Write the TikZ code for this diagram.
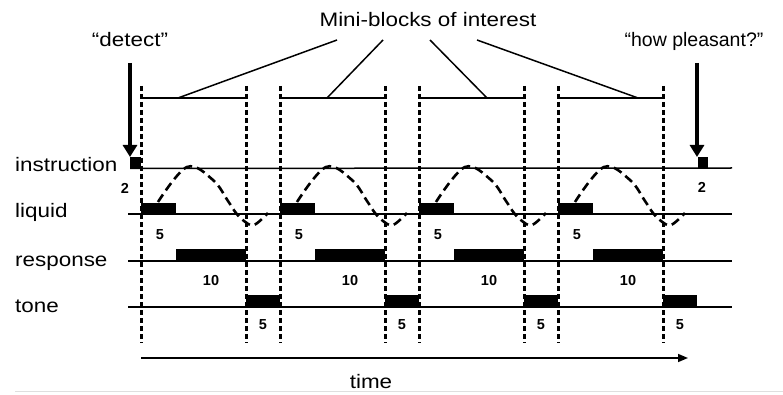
\documentclass[tikz,border=0pt]{standalone}
\usepackage{fontspec}
\setmainfont[FakeStretch=1.15]{Liberation Sans}
\newfontfamily\plainsans{Liberation Sans}
\usetikzlibrary{arrows.meta}
\begin{document}
\begin{tikzpicture}[x=1pt,y=-1pt,
  lbl/.style={font=\fontsize{19.5}{22}\selectfont, inner sep=0pt, anchor=base west},
  ttl/.style={font=\fontsize{19.5}{22}\selectfont, inner sep=0pt, anchor=base},
  num/.style={font=\plainsans\fontsize{14.5}{16}\selectfont\bfseries, inner sep=0pt},
  track/.style={line width=1.5pt},
  pointer/.style={line width=1.5pt},
  blk/.style={fill=black, draw=none, inner sep=0pt, minimum size=11pt, anchor=north west},
  vdash/.style={line width=3pt, dash pattern=on 5pt off 3pt},
  conc/.style={line width=2.6pt, dash pattern=on 9pt off 5pt},
  bigarrow/.style={line width=3.6pt, -{Triangle[width=14pt,length=12pt]}},
  timearrow/.style={line width=1.5pt, -{Triangle[width=8pt,length=10pt]}}]
\useasboundingbox (0,0) rectangle (783,395);

% labels
\node[ttl] (mini) at (428,27) {Mini-blocks of interest};
\node[ttl] (det) at (130,47) {“detect”};
\node[ttl, font=\plainsans\fontsize{19.5}{22}\selectfont] (pleas) at (694,47) {“how pleasant?”};
\node[lbl] (linstr) at (15,172) {instruction};
\node[lbl] (lliq) at (15,218) {liquid};
\node[lbl] (lresp) at (15,266) {response};
\node[lbl] (ltone) at (15,312) {tone};
\node[ttl] (ltime) at (371,388) {time};

% black blocks per mini-block
\foreach \k in {0,...,3}{
  \pgfmathsetmacro\b{141+139*\k}
  \fill (\b,203) rectangle ({\b+35},214);
  \fill ({\b+35},249) rectangle ({\b+105},261);
  \fill ({\b+105},295) rectangle ({\b+139},307);
  \node[num] (n5l\k) at ({\b+19},235) {5};
  \node[num] (n10\k) at ({\b+70},281) {10};
  \node[num] (n5t\k) at ({\b+122},325) {5};
  \coordinate (bl\k) at (\b,98);
  \coordinate (br\k) at ({\b+105},98);
}

% instruction squares
\node[blk] (sq1) at (130,157) {};
\node[blk, minimum width=10pt] (sq2) at (698,157) {};
\node[num] (n2a) at (125,188) {2};
\node[num] (n2b) at (702,187) {2};

% tracks
\draw[track] (sq1.south west) -- (732,168);
\draw[track] (128,214) -- (732,214);
\draw[track] (128,261) -- (732,261);
\draw[track] (128,307) -- (732,307);

% brackets
\foreach \k in {0,...,3}{
  \draw[track] (bl\k) -- (br\k);
}

% dashed verticals
\foreach \k in {0,...,3}{
  \pgfmathsetmacro\b{141+139*\k}
  \draw[vdash] (\b,86) -- (\b,343);
  \draw[vdash] ({\b+105},86) -- ({\b+105},343);
}

% liquid concentration curves
\foreach \k in {0,...,3}{
  \pgfmathsetmacro\b{141+139*\k}
  \draw[conc] plot[smooth, tension=0.6] coordinates
    {({\b+17},202) ({\b+46},167) ({\b+72},180) ({\b+87},201) ({\b+95},213) ({\b+103},221) ({\b+113},225) ({\b+127},213)};
}

% pointers from the title
\coordinate (m0) at (337,40);
\coordinate (m1) at (383,40);
\coordinate (m2) at (430,40);
\coordinate (m3) at (477,40);
\coordinate (t0) at (178,98);
\coordinate (t1) at (327,98);
\coordinate (t2) at (487,98);
\coordinate (t3) at (638,98);
\foreach \k in {0,...,3}{ \draw[pointer] (m\k) -- (t\k); }

% instruction arrows
\coordinate (a1) at (130,63);
\coordinate (a2) at (697,63);
\draw[bigarrow] (a1) -- (sq1.north west);
\draw[bigarrow] (a2) -- (697,157);

% time axis
\coordinate (ts) at (141,358);
\coordinate (te) at (688,358);
\draw[timearrow] (ts) -- (te);

% faint bottom rule
\draw[gray!25, line width=1pt] (15,391) -- (783,391);
\end{tikzpicture}
\end{document}
